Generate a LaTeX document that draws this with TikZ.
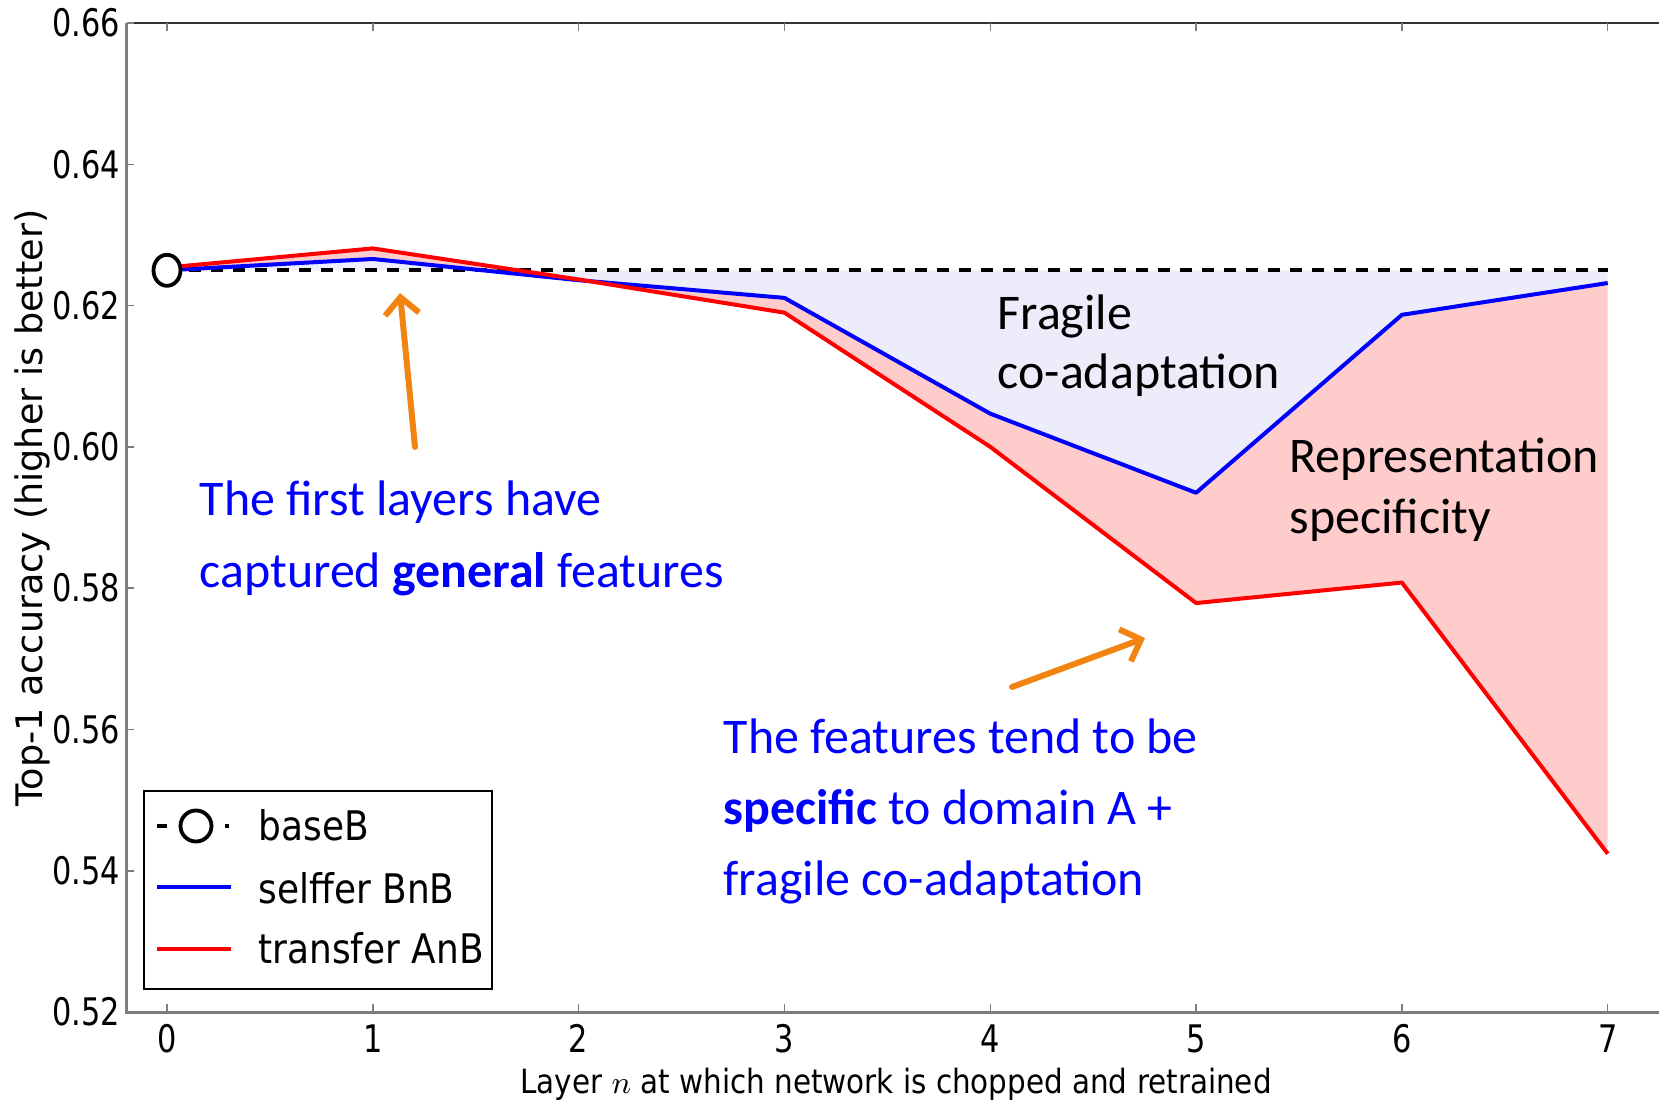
\documentclass[tikz,border=0pt]{standalone}
\usepackage{fontspec}
\usetikzlibrary{arrows.meta}
\newfontfamily\plotfont[FakeStretch=0.88]{DejaVu Sans}
\newfontfamily\tickfont[FakeStretch=0.8]{DejaVu Sans}
\newfontfamily\ylabfont{DejaVu Sans}
\newfontfamily\slidefont{Carlito}
\definecolor{myorange}{RGB}{242,132,18}
\definecolor{mylavender}{RGB}{236,236,250}
\definecolor{mypink}{RGB}{255,204,204}
\definecolor{myspine}{RGB}{125,125,125}
\tikzset{
  curve/.style={line width=0.4mm, line join=round},
  ticklab/.style={font=\tickfont\fontsize{10.8}{12}\selectfont, inner sep=0pt},
  leglab/.style={font=\plotfont\fontsize{11.6}{13}\selectfont, inner sep=0pt, anchor=base west},
  remark/.style={font=\slidefont\fontsize{14.2}{#1}\selectfont, align=left, anchor=north west, inner sep=0pt},
  pointer/.style={-{Straight Barb[length=1.7mm,width=3.4mm]}, line width=0.6mm, myorange, line cap=round},
}

\begin{document}
\begin{tikzpicture}[x=0.01cm, y=-0.01cm]
  \useasboundingbox (0,0) rectangle (1659,1100);

  % plot area in data units (layer, accuracy)
  \begin{scope}[shift={(167,1012)}, x=2.057cm, y=70.6cm, shift={(0,-0.52)}]
    \pgfmathsetmacro\xl{-0.1945} % left spine
    \pgfmathsetmacro\xr{7.3}
    \pgfmathsetmacro\base{0.625}

    \foreach \v [count=\i from 0] in {0.6250,0.6266,0.6236,0.6211,0.6047,0.5935,0.6187,0.6232}
      \coordinate (s\i) at (\i,\v);
    \foreach \v [count=\i from 0] in {0.6254,0.6281,0.6237,0.6190,0.6000,0.5779,0.5808,0.5424}
      \coordinate (t\i) at (\i,\v);
    \coordinate (b0) at (0,\base);
    \coordinate (b7) at (7,\base);

    \fill[mylavender] (b0) -- (b7) \foreach \i in {7,...,0} {-- (s\i)} -- cycle;
    \fill[mypink] (s0) \foreach \i in {1,...,7} {-- (s\i)} \foreach \i in {7,...,0} {-- (t\i)} -- cycle;

    \draw[myspine, line width=0.3mm] (\xl,0.66) -- (\xl,0.52) -- (\xr,0.52);
    \draw[black!80, line width=0.2mm] (\xl,0.66) -- (\xr,0.66);

    \foreach \i in {0,...,7} {
      \draw[myspine, line width=0.15mm] (\i,0.52) -- ++(0,0.0011);
      \draw[myspine, line width=0.15mm] (\i,0.66) -- ++(0,-0.0011);
      \node[ticklab, anchor=north, yshift=-1.2mm] (xt\i) at (\i,0.52) {\i};
    }
    \foreach \v [count=\k] in {0.52,0.54,0.56,0.58,0.60,0.62,0.64,0.66} {
      \draw[myspine, line width=0.15mm] (\xl,\v) -- ++(0.034,0);
      \node[ticklab, anchor=east, xshift=-0.6mm] (yt\k) at (\xl,\v) {\v};
    }

    \draw[curve, black, line width=0.4mm, dash pattern=on 1.2mm off 1mm] (b0) -- (b7);
    \draw[curve, blue] (s0) \foreach \i in {1,...,7} {-- (s\i)};
    \draw[curve, red] (t0) \foreach \i in {1,...,7} {-- (t\i)};
    \filldraw[line width=0.38mm, fill=white] (b0) ellipse [x radius=1.35mm, y radius=1.55mm];
  \end{scope}

  \node[font=\ylabfont\fontsize{10.4}{12}\selectfont, rotate=90, anchor=base, inner sep=0pt] (ylab) at (43,508) {Top-1 accuracy (higher is better)};
  \node[font=\plotfont\fontsize{9.5}{11}\selectfont, anchor=base, inner sep=0pt] (xlab) at (896,1093) {Layer $n$ at which network is chopped and retrained};

  % legend
  \draw[line width=0.2mm, fill=white] (144,791) rectangle (492,989);
  \draw[line width=0.38mm] (157,826) -- (167,826) (225,826) -- (229,826);
  \draw[line width=0.38mm] (196,826) circle [radius=1.55mm];
  \draw[curve, blue] (157,887) -- (231,887);
  \draw[curve, red] (157,949) -- (231,949);
  \node[leglab] (legbase) at (258,840) {baseB};
  \node[leglab] (legself) at (258,903) {selffer BnB};
  \node[leglab] (legtrans) at (258,963) {transfer AnB};

  % annotations
  \node[remark=16.8pt] (frag) at (997,294) {Fragile\\co-adaptation};
  \node[remark=17.4pt] (repr) at (1289,437) {Representation\\specificity};
  \node[remark=20.5pt, blue] (first) at (199,480) {The first layers have\\captured \textbf{general} features};
  \node[remark=20.2pt, blue] (feat) at (723,718) {The features tend to be\\\textbf{specific} to domain A +\\fragile co-adaptation};

  \coordinate (upTail) at (415,447);
  \coordinate (upTip) at (400,293);
  \coordinate (rtTail) at (1012,687);
  \coordinate (rtTip) at (1145,638);
  \draw[pointer] (upTail) -- (upTip);
  \draw[pointer] (rtTail) -- (rtTip);
\end{tikzpicture}
\end{document}
